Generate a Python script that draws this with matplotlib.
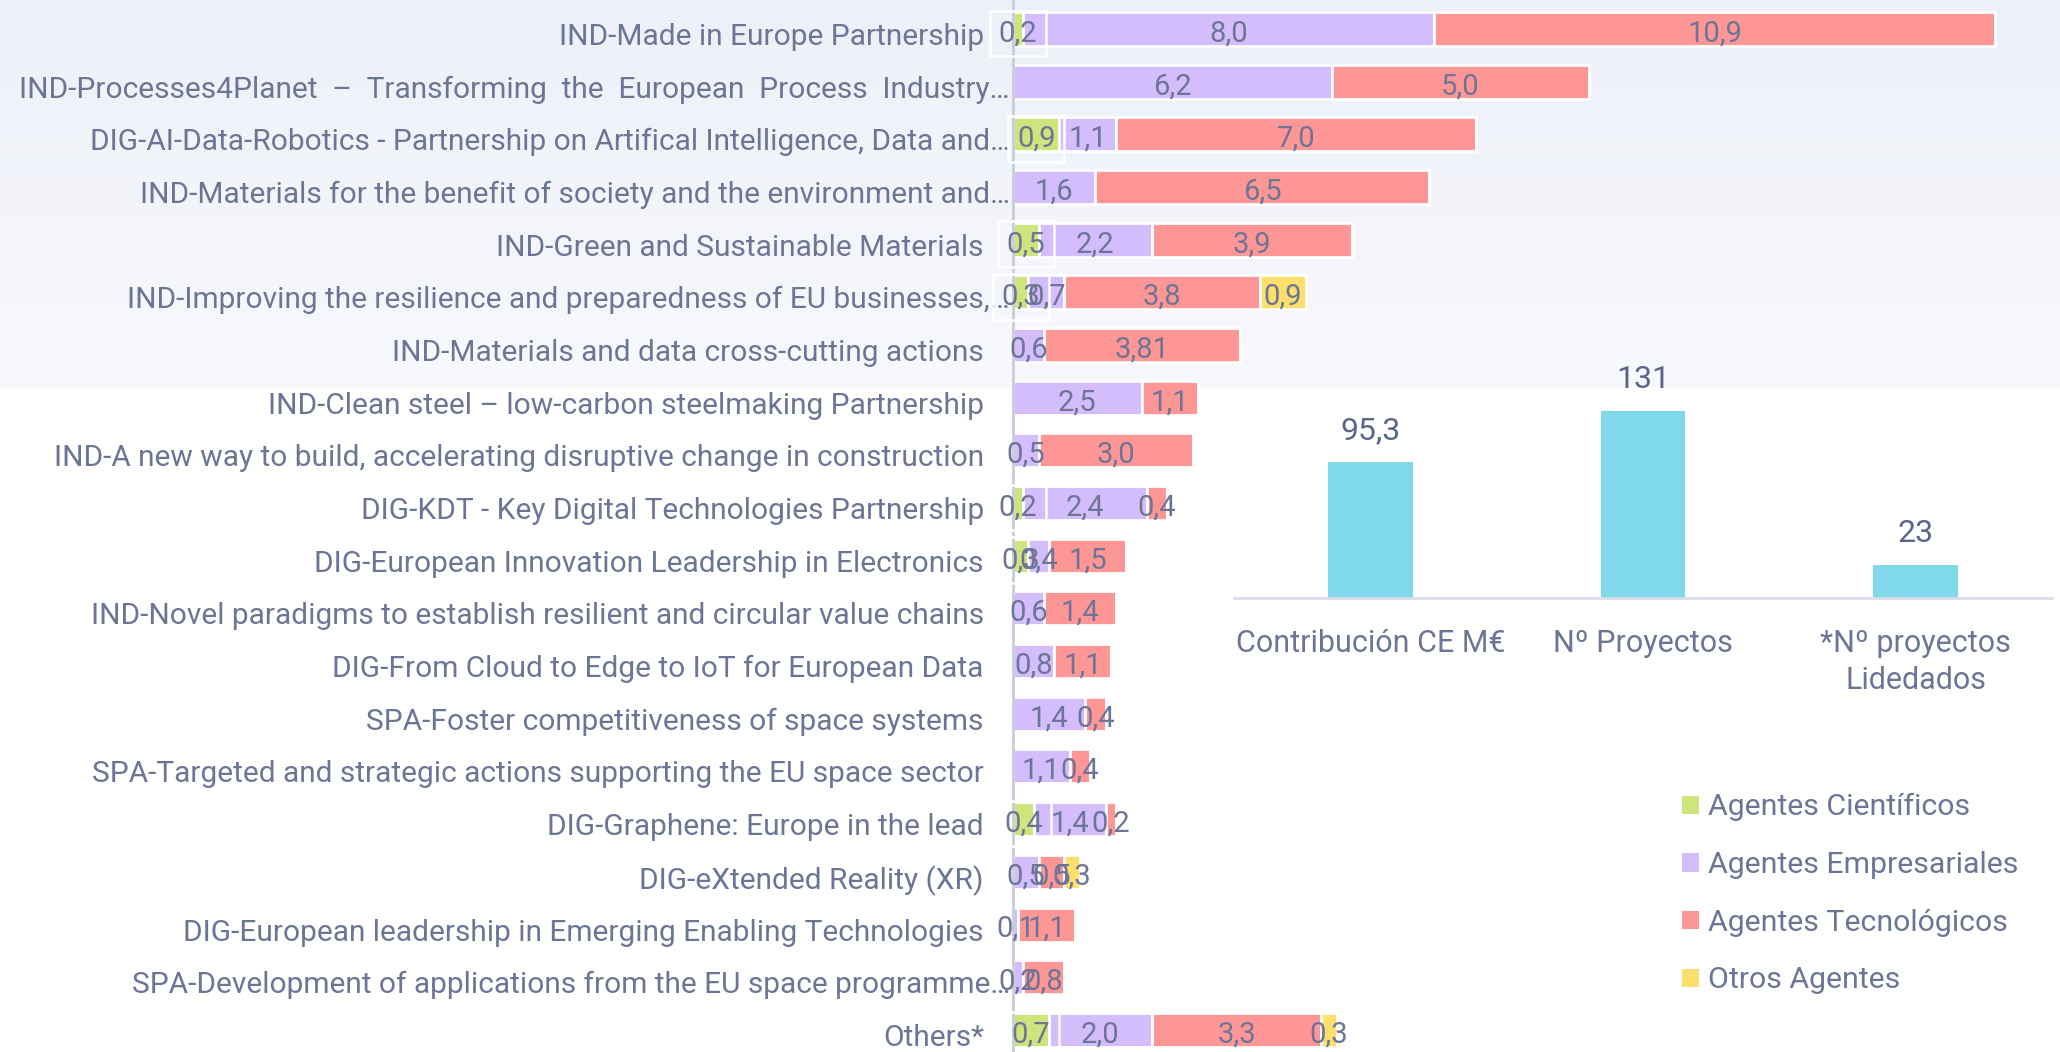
import matplotlib
matplotlib.use("Agg")
import matplotlib.pyplot as plt
import numpy as np
from matplotlib.patches import Patch
from matplotlib.colors import to_rgb
from matplotlib.transforms import ScaledTranslation

plt.rcParams["font.family"] = ["Roboto", "DejaVu Sans"]

# ---- data -------------------------------------------------------------
partnerships = [
    "IND-Made in Europe Partnership",
    "IND-Processes4Planet  –  Transforming  the  European  Process  Industry…",
    "DIG-AI-Data-Robotics - Partnership on Artifical Intelligence, Data and…",
    "IND-Materials for the benefit of society and the environment and…",
    "IND-Green and Sustainable Materials",
    "IND-Improving the resilience and preparedness of EU businesses,…",
    "IND-Materials and data cross-cutting actions",
    "IND-Clean steel – low-carbon steelmaking Partnership",
    "IND-A new way to build, accelerating disruptive change in construction",
    "DIG-KDT - Key Digital Technologies Partnership",
    "DIG-European Innovation Leadership in Electronics",
    "IND-Novel paradigms to establish resilient and circular value chains",
    "DIG-From Cloud to Edge to IoT for European Data",
    "SPA-Foster competitiveness of space systems",
    "SPA-Targeted and strategic actions supporting the EU space sector",
    "DIG-Graphene: Europe in the lead",
    "DIG-eXtended Reality (XR)",
    "DIG-European leadership in Emerging Enabling Technologies",
    "SPA-Development of applications from the EU space programme…",
    "Others*",
]
cientificos    = [0.2, 0,   0.9, 0,   0.5, 0.3, 0,    0,   0,   0.2, 0.3, 0,   0,   0,   0,   0.4, 0,   0,   0,   0.7]
empresariales  = [8.0, 6.2, 1.1, 1.6, 2.2, 0.7, 0.6,  2.5, 0.5, 2.4, 0.4, 0.6, 0.8, 1.4, 1.1, 1.4, 0.5, 0.1, 0.2, 2.0]
tecnologicos   = [10.9, 5.0, 7.0, 6.5, 3.9, 3.8, 3.81, 1.1, 3.0, 0.4, 1.5, 1.4, 1.1, 0.4, 0.4, 0.2, 0.5, 1.1, 0.8, 3.3]
otros          = [0,   0,   0,   0,   0,   0.9, 0,    0,   0,   0,   0,   0,   0,   0,   0,   0,   0.3, 0,   0,   0.3]

series_names = ["Agentes Científicos", "Agentes Empresariales",
                "Agentes Tecnológicos", "Otros Agentes"]
series_colors = ["#cfe47c", "#d3bdfd", "#fe9696", "#fde06c"]

summary_cats = ["Contribución CE M€", "Nº Proyectos", "*Nº proyectos\nLidedados"]
summary_vals = [95.3, 131, 23]
summary_lbls = ["95,3", "131", "23"]

TXT = "#6d7596"


def fmt(v):
    if v == 0:
        return ""
    s = f"{v:.1f}" if abs(round(v, 1) - v) < 1e-9 else f"{v:.2f}"
    return s.replace(".", ",")


# ---- figure -----------------------------------------------------------
fig = plt.figure(figsize=(20.6, 10.52), dpi=100)

# soft background band at the top
bg = fig.add_axes([0, 0, 1, 1], zorder=-10)
h = 1052
top = np.array(to_rgb("#edf0f8"))
mid = np.array(to_rgb("#f8f9fd"))
col = np.ones((h, 3))
band = 388
t = np.linspace(0, 1, band)[:, None]
col[:band] = top * (1 - t) + mid * t
bg.imshow(col[:, None, :], aspect="auto", extent=[0, 1, 0, 1])
bg.set_axis_off()

ax = fig.add_axes([1013 / 2060, 0, 1 - 1013 / 2060, 1])
ax.patch.set_alpha(0)
y = np.arange(len(partnerships))
left = np.zeros(len(partnerships))
for i, (vals, name, c) in enumerate(zip([cientificos, empresariales, tecnologicos, otros],
                                        series_names, series_colors)):
    vals = np.array(vals, dtype=float)
    bars = ax.barh(y, vals, left=left, height=0.645, color=c,
                   edgecolor="white", linewidth=2, label=name)
    anns = ax.bar_label(bars, labels=[fmt(v) for v in vals], label_type="center",
                        fontsize=21, color=TXT)
    for a in anns:
        a.xyann = (0, -3.2)
        # the first segment's labels carry a thin white frame in the source
        if i == 0 and a.get_text():
            a.set_bbox(dict(boxstyle="square,pad=0.3", fc="none",
                            ec="white", lw=1.8))
    left += vals

ax.set_xlim(0, 1047 / 51.4)
ax.set_ylim(19.42, -0.55)
ax.set_yticks(y)
ax.set_yticklabels(partnerships, fontsize=21.5, color=TXT)
ax.tick_params(axis="y", length=0, pad=21)
ax.set_xticks([])
for s in ["top", "right", "bottom"]:
    ax.spines[s].set_visible(False)
ax.spines["left"].set_color("#c9ccd9")
ax.spines["left"].set_linewidth(2)

# nudge labels slightly down; truncated ones run past the axis line
for lab in ax.get_yticklabels():
    dx = 0.26 if lab.get_text().endswith("…") else 0
    lab.set_transform(lab.get_transform() +
                      ScaledTranslation(dx, -0.05, fig.dpi_scale_trans))

# ---- summary inset ----------------------------------------------------
ax2 = fig.add_axes([1234 / 2060, 1 - 598 / 1052, 818 / 2060, 229 / 1052])
ax2.patch.set_alpha(0)
xs = np.arange(len(summary_cats))
b2 = ax2.bar(xs, summary_vals, width=0.31, color="#80d9ea")
ax2.bar_label(b2, labels=summary_lbls, padding=12, fontsize=23, color="#5b6489")
ax2.set_xlim(-0.5, 2.5)
ax2.set_ylim(0, 160)
ax2.set_xticks(xs)
ax2.set_xticklabels(summary_cats, fontsize=22, color=TXT, linespacing=1.38)
ax2.tick_params(axis="x", length=0, pad=22)
ax2.set_yticks([])
for s in ["top", "right", "left"]:
    ax2.spines[s].set_visible(False)
ax2.spines["bottom"].set_color("#d9dce6")
ax2.spines["bottom"].set_linewidth(2)

# ---- legend -----------------------------------------------------------
handles = [Patch(facecolor=c, edgecolor="none") for c in series_colors]
fig.legend(handles, series_names, loc="upper left",
           bbox_to_anchor=(1655 / 2060, 1 - 766 / 1052), frameon=False,
           fontsize=21.8, labelcolor=TXT, handlelength=0.55, handleheight=0.55,
           handletextpad=0.3, labelspacing=0.98)

fig.savefig("out.png", dpi=100)
